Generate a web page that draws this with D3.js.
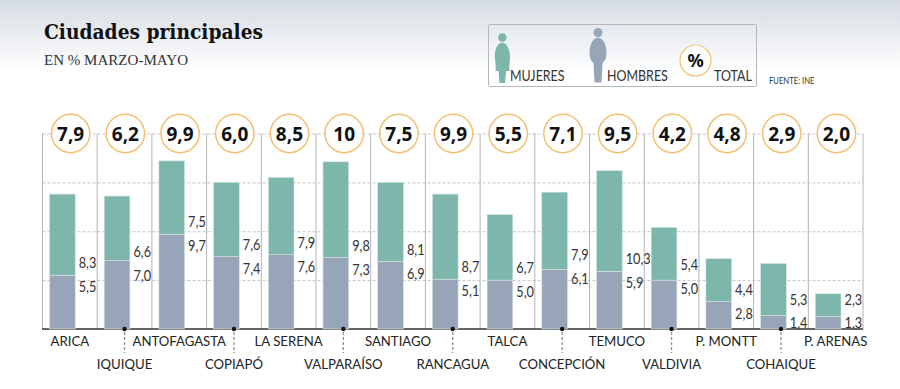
<!DOCTYPE html>
<html>
<head>
<meta charset="utf-8">
<script src="https://cdn.jsdelivr.net/npm/d3@7"></script>
<style>
  html, body { margin: 0; padding: 0; background: #fff; }
  svg { display: block; }
</style>
</head>
<body>
<script>
const cities = ["ARICA", "IQUIQUE", "ANTOFAGASTA", "COPIAPÓ", "LA SERENA", "VALPARAÍSO", "SANTIAGO", "RANCAGUA", "TALCA", "CONCEPCIÓN", "TEMUCO", "VALDIVIA", "P. MONTT", "COHAIQUE", "P. ARENAS"];
const hombres = [5.5, 7.0, 9.7, 7.4, 7.6, 7.3, 6.9, 5.1, 5.0, 6.1, 5.9, 5.0, 2.8, 1.4, 1.3];
const mujeres = [8.3, 6.6, 7.5, 7.6, 7.9, 9.8, 8.1, 8.7, 6.7, 7.9, 10.3, 5.4, 4.4, 5.3, 2.3];
const totals = ["7,9", "6,2", "9,9", "6,0", "8,5", "10", "7,5", "9,9", "5,5", "7,1", "9,5", "4,2", "4,8", "2,9", "2,0"];
const gridTicks = [5, 10, 15, 20];

const width = 900, height = 389;
const comma = v => v.toFixed(1).replace(".", ",");
const labelFont = "Lato, 'Open Sans', sans-serif";

// the original uses a condensed face, so squeeze the text to fit
function condense(sel, factor) {
    sel.each(function () {
        const len = this.getComputedTextLength();
        d3.select(this).attr("textLength", len * factor).attr("lengthAdjust", "spacingAndGlyphs");
    });
}

const svg = d3.select("body").append("svg")
    .attr("width", width)
    .attr("height", height);

// header gradient
const grad = svg.append("defs").append("linearGradient")
    .attr("id", "head").attr("x1", 0).attr("x2", 0).attr("y1", 0).attr("y2", 1);
grad.append("stop").attr("offset", 0).attr("stop-color", "#d6dce4");
grad.append("stop").attr("offset", 1).attr("stop-color", "#ffffff");
svg.append("rect").attr("width", width).attr("height", 72).attr("fill", "url(#head)");

svg.append("text").attr("x", 44).attr("y", 39)
    .style("font-family", "'DejaVu Serif', serif").style("font-weight", 700).style("font-size", "21px")
    .attr("textLength", 219).attr("lengthAdjust", "spacingAndGlyphs")
    .attr("fill", "#111").text("Ciudades principales");
svg.append("text").attr("x", 44).attr("y", 65)
    .style("font-family", "'Liberation Serif', serif").style("font-size", "15px")
    .attr("textLength", 144).attr("lengthAdjust", "spacingAndGlyphs")
    .attr("fill", "#333").text("EN % MARZO-MAYO");

// scales
const x = d3.scaleBand().domain(cities).range([42.5, 863]);
const y = d3.scaleLinear().domain([0, 20]).range([329, 133.5]);
const barW = 25.7, barOff = 7;

// gridlines
const grid = svg.append("g")
    .attr("transform", "translate(42.5,0)")
    .call(d3.axisLeft(y).tickValues(gridTicks).tickSize(-820.5).tickFormat(""));
grid.select(".domain").remove();
grid.selectAll("line").attr("stroke", "#c4c4c4").attr("stroke-dasharray", "3,2");

// vertical separators
svg.append("g").selectAll("line")
    .data(cities.concat("end"))
    .join("line")
    .attr("x1", (d, i) => x.range()[0] + i * x.step())
    .attr("x2", (d, i) => x.range()[0] + i * x.step())
    .attr("y1", y(20)).attr("y2", y(0))
    .attr("stroke", "#b4b4b4").attr("stroke-width", 1);

// baseline
svg.append("line")
    .attr("x1", x.range()[0] - 0.5).attr("x2", x.range()[1])
    .attr("y1", y(0)).attr("y2", y(0))
    .attr("stroke", "#333").attr("stroke-width", 1.6);

// stacked bars
const series = d3.stack().keys(["h", "m"])(cities.map((c, i) => ({ city: c, h: hombres[i], m: mujeres[i] })));
const color = d3.scaleOrdinal().domain(["h", "m"]).range(["#98a5b8", "#7db7ab"]);
svg.append("g").selectAll("g")
    .data(series)
    .join("g")
    .attr("fill", d => color(d.key))
    .selectAll("rect")
    .data(d => d)
    .join("rect")
    .attr("x", d => x(d.data.city) + barOff)
    .attr("width", barW)
    .attr("y", d => y(d[1]))
    .attr("height", d => y(d[0]) - y(d[1]))
    .attr("stroke", "#d5e4e2").attr("stroke-width", 0.6);

// value labels next to the bars, a few nudged by hand like the original
const nudge = { "IQUIQUE": 3, "CONCEPCIÓN": -2, "VALDIVIA": -3, "COHAIQUE": -3, "P. ARENAS": -1 };
const labels = svg.append("g")
    .style("font-family", labelFont).style("font-size", "15px").attr("fill", "#333");
cities.forEach((c, i) => {
    const top = y(hombres[i]) + (nudge[c] || 0);
    const lx = x(c) + barOff + barW + 3.5;
    labels.append("text").attr("x", lx).attr("y", Math.min(top - 7, y(0) - 24)).text(comma(mujeres[i]));
    labels.append("text").attr("x", lx).attr("y", Math.min(top + 17, y(0) - 1)).text(comma(hombres[i]));
});
labels.selectAll("text").call(condense, 0.85);

// city labels, every other one dropped to a second row with a leader
svg.append("g").selectAll("text")
    .data(cities)
    .join("text")
    .attr("x", d => x(d) + x.bandwidth() / 2)
    .attr("y", (d, i) => i % 2 ? 369 : 346)
    .attr("text-anchor", "middle")
    .style("font-family", labelFont).style("font-size", "14px")
    .attr("fill", "#222")
    .text(d => d)
    .call(condense, 0.94);
const leaderCities = cities.filter((d, i) => i % 2);
svg.append("g").selectAll("line")
    .data(leaderCities)
    .join("line")
    .attr("x1", d => x(d) + x.bandwidth() / 2)
    .attr("x2", d => x(d) + x.bandwidth() / 2)
    .attr("y1", y(0) + 3).attr("y2", 353)
    .attr("stroke", "#8f8f8f").attr("stroke-width", 1.3).attr("stroke-dasharray", "3,2");
svg.append("g").selectAll("circle")
    .data(leaderCities)
    .join("circle")
    .attr("cx", d => x(d) + x.bandwidth() / 2)
    .attr("cy", y(0))
    .attr("r", 2.2).attr("fill", "#111");

// totals
const tot = svg.append("g").selectAll("g")
    .data(cities)
    .join("g")
    .attr("transform", d => `translate(${x(d) + x.bandwidth() / 2 + 0.8},${y(20)})`);
tot.append("circle").attr("r", 19.2).attr("fill", "#fff").attr("stroke", "#f5bf70").attr("stroke-width", 1.5);
tot.append("text").attr("text-anchor", "middle").attr("y", 7)
    .style("font-family", "'Noto Sans', sans-serif").style("font-weight", 700).style("font-size", "19px")
    .attr("fill", "#111")
    .text((d, i) => totals[i]);

// legend
const legend = svg.append("g");
legend.append("rect").attr("x", 488.5).attr("y", 24.5).attr("width", 268).attr("height", 62).attr("rx", 1)
    .attr("fill", "none").attr("stroke", "#b5b7ba");
const woman = legend.append("g").attr("fill", "#7db7ab");
woman.append("circle").attr("cx", 502.3).attr("cy", 37.5).attr("r", 4.3);
woman.append("path").attr("d", "M502.3 42.5 C497 43 494.5 50 494.8 58 C495 61 496 62 495.6 71 L498.5 71 L499.5 83 L505 83 L506.2 71 L509.5 71 C509 64 510 60 510 57 C510 50 507 43 502.3 42.5 Z");
const man = legend.append("g").attr("fill", "#98a5b8");
man.append("circle").attr("cx", 598).attr("cy", 32.5).attr("r", 4.5);
man.append("path").attr("d", "M598 37.5 C592 38.5 589.5 46 589.5 53 C589.5 58 591 61 593.5 63 L594.5 82.5 L601.5 82.5 L602.5 63 C605 61 606.5 58 606.5 53 C606.5 46 604 38.5 598 37.5 Z");
legend.append("circle").attr("cx", 695.5).attr("cy", 60.5).attr("r", 15.5)
    .attr("fill", "#fff").attr("stroke", "#f5bf70").attr("stroke-width", 1.2);
legend.append("text").attr("x", 695.5).attr("y", 67).attr("text-anchor", "middle")
    .style("font-family", "'Noto Sans', sans-serif").style("font-weight", 700).style("font-size", "18px")
    .attr("fill", "#111").text("%");
const legendText = legend.append("g")
    .style("font-family", labelFont).style("font-size", "15px").attr("fill", "#333");
legendText.append("text").attr("x", 510).attr("y", 81).text("MUJERES");
legendText.append("text").attr("x", 607).attr("y", 81).text("HOMBRES");
legendText.append("text").attr("x", 714).attr("y", 81).text("TOTAL");
legendText.selectAll("text").call(condense, 0.83);

svg.append("text").attr("x", 769).attr("y", 84)
    .style("font-family", labelFont).style("font-size", "8.5px")
    .attr("fill", "#333").text("FUENTE: INE")
    .call(condense, 0.9);
</script>
</body>
</html>
